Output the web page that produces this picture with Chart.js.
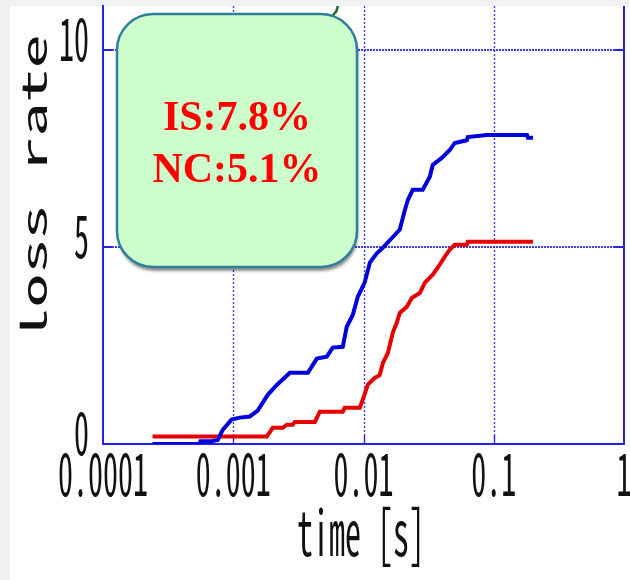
<!DOCTYPE html>
<html>
<head>
<meta charset="utf-8">
<script src="https://cdn.jsdelivr.net/npm/chart.js@4"></script>
<style>
  html, body { margin: 0; padding: 0; background: #eff1f2; }
  #wrap { width: 630px; height: 580px; }
</style>
</head>
<body>
<div id="wrap"><canvas id="lossChart" width="630" height="580"></canvas></div>
<script>
// values
const isTime = [0.00024, 0.00055, 0.00056, 0.00068, 0.00076, 0.00083, 0.00097, 0.00112, 0.00134, 0.00154, 0.00184, 0.00216,
    0.00272, 0.00374, 0.00438, 0.00522, 0.00581, 0.00693, 0.00744, 0.00827, 0.00904, 0.0102, 0.0112, 0.0126, 0.0141,
    0.0168, 0.019, 0.0208, 0.0219, 0.0239, 0.0285, 0.0323, 0.034, 0.0399, 0.046, 0.0502, 0.0621, 0.0632, 0.0885,
    0.18, 0.183, 0.2];
const isRate = [0, 0, 0.07, 0.07, 0.1, 0.36, 0.62, 0.67, 0.7, 0.85, 1.25, 1.5,
    1.81, 1.81, 2.17, 2.22, 2.45, 2.47, 2.98, 3.28, 3.74, 4.1, 4.61, 4.84, 4.99,
    5.26, 5.45, 5.95, 6.2, 6.46, 6.46, 6.79, 7.09, 7.27, 7.47, 7.65, 7.72, 7.8, 7.85,
    7.85, 7.78, 7.78];

const ncTime = [0.00024, 0.00181, 0.00201, 0.0024, 0.00258, 0.00286, 0.00297, 0.00423, 0.00462, 0.00693, 0.00718,
    0.00937, 0.00988, 0.0108, 0.0122, 0.0133, 0.0141, 0.0154, 0.0168, 0.018, 0.019, 0.0215, 0.0235, 0.0271,
    0.0296, 0.034, 0.0385, 0.0421, 0.046, 0.0502, 0.0621, 0.0632, 0.2];
const ncRate = [0.19, 0.19, 0.41, 0.41, 0.49, 0.49, 0.56, 0.56, 0.82, 0.82, 0.92,
    0.92, 1.13, 1.51, 1.68, 1.75, 2.06, 2.32, 2.83, 3.08, 3.33, 3.49, 3.71, 3.84,
    4.1, 4.3, 4.56, 4.76, 4.94, 5.06, 5.06, 5.14, 5.14];

// third curve, only its tail shows above the note box
const otherTime = [0.0055, 0.00585, 0.0062, 0.0068];
const otherRate = [10.6, 10.9, 11.0, 11.5];

const xTickValues = [0.0001, 0.001, 0.01, 0.1, 1];
const xTickLabels = ["0.0001", "0.001", "0.01", "0.1", "1"];
const yTickValues = [0, 5, 10];
const yTickLabels = ["0", "5", "10"];

const noteLines = ["IS:7.8%", "NC:5.1%"];

const MONO = '"Noto Sans Mono CJK JP", "Noto Sans CJK JP", "DejaVu Sans Mono", monospace';
const STRETCH = 1.95;
const AXIS_BLUE = "#2222e8";
const GRID_BLUE = "rgba(40,40,240,0.9)";

function pts(xs, ys) {
    return xs.map((x, i) => ({ x: x, y: ys[i] }));
}

function tallText(ctx, text, x, y, size, align, rotate) {
    ctx.save();
    ctx.translate(x, y);
    ctx.scale(1, STRETCH);
    if (rotate) ctx.rotate(-Math.PI / 2);
    ctx.font = size + "px " + MONO;
    ctx.fillStyle = "#111";
    ctx.textAlign = align;
    ctx.textBaseline = "alphabetic";
    ctx.fillText(text, 0, 0);
    ctx.restore();
}

function roundRect(ctx, x, y, w, h, r) {
    ctx.beginPath();
    ctx.moveTo(x + r, y);
    ctx.lineTo(x + w - r, y);
    ctx.arcTo(x + w, y, x + w, y + r, r);
    ctx.lineTo(x + w, y + h - r);
    ctx.arcTo(x + w, y + h, x + w - r, y + h, r);
    ctx.lineTo(x + r, y + h);
    ctx.arcTo(x, y + h, x, y + h - r, r);
    ctx.lineTo(x, y + r);
    ctx.arcTo(x, y, x + r, y, r);
    ctx.closePath();
}

const decor = {
    id: "decor",
    beforeDraw(chart) {
        const ctx = chart.ctx;
        ctx.save();
        ctx.fillStyle = "#eff1f2";
        ctx.fillRect(0, 0, chart.width, chart.height);
        ctx.fillStyle = "#ffffff";
        ctx.fillRect(10, 6, chart.width - 10, chart.height - 6);
        ctx.restore();
    },
    beforeDatasetsDraw(chart) {
        const ctx = chart.ctx;
        const a = chart.chartArea;
        const xs = chart.scales.x;
        const ys = chart.scales.y;
        ctx.save();
        // vertical dotted grid
        ctx.strokeStyle = GRID_BLUE;
        ctx.lineWidth = 1.4;
        ctx.setLineDash([2, 2]);
        xTickValues.slice(1, -1).forEach(v => {
            const px = Math.round(xs.getPixelForValue(v)) + 0.5;
            ctx.beginPath();
            ctx.moveTo(px, a.top);
            ctx.lineTo(px, a.bottom - 9);
            ctx.stroke();
        });
        // horizontal dotted grid
        ctx.lineWidth = 2;
        ctx.setLineDash([2, 1]);
        yTickValues.slice(1).forEach(v => {
            const py = Math.round(ys.getPixelForValue(v));
            ctx.beginPath();
            ctx.moveTo(a.left + 9, py);
            ctx.lineTo(a.right - 9, py);
            ctx.stroke();
        });
        // inward tick marks
        ctx.setLineDash([]);
        ctx.strokeStyle = AXIS_BLUE;
        yTickValues.slice(1).forEach(v => {
            const py = Math.round(ys.getPixelForValue(v));
            ctx.beginPath();
            ctx.moveTo(a.left, py);
            ctx.lineTo(a.left + 9, py);
            ctx.moveTo(a.right - 9, py);
            ctx.lineTo(a.right, py);
            ctx.stroke();
        });
        ctx.lineWidth = 1.4;
        xTickValues.slice(1, -1).forEach(v => {
            const px = Math.round(xs.getPixelForValue(v)) + 0.5;
            ctx.beginPath();
            ctx.moveTo(px, a.bottom);
            ctx.lineTo(px, a.bottom - 9);
            ctx.stroke();
        });
        // right frame
        ctx.lineWidth = 2;
        ctx.beginPath();
        ctx.moveTo(a.right, a.top);
        ctx.lineTo(a.right, a.bottom);
        ctx.stroke();
        ctx.restore();
    },
    afterDraw(chart) {
        const ctx = chart.ctx;
        const xs = chart.scales.x;
        const ys = chart.scales.y;

        // tick labels
        xTickValues.forEach((v, i) => {
            tallText(ctx, xTickLabels[i], xs.getPixelForValue(v), 496, 30, "center", false);
        });
        yTickValues.forEach((v, i) => {
            tallText(ctx, yTickLabels[i], 89, ys.getPixelForValue(v) + 11, 30, "right", false);
        });
        // axis titles
        tallText(ctx, "time [s]", 361, 556, 32, "center", false);
        tallText(ctx, "loss rate", 47, 188, 35, "center", true);

        // note box
        ctx.save();
        ctx.shadowColor = "rgba(0,0,0,0.45)";
        ctx.shadowBlur = 3;
        ctx.shadowOffsetX = 1;
        ctx.shadowOffsetY = 4;
        roundRect(ctx, 117, 14, 240, 253, 36);
        ctx.fillStyle = "#ccffcc";
        ctx.fill();
        ctx.shadowColor = "transparent";
        ctx.lineWidth = 2.5;
        ctx.strokeStyle = "#2f7f9b";
        ctx.stroke();
        ctx.font = "bold 42px 'Liberation Serif', 'Times New Roman', serif";
        ctx.fillStyle = "#ff0000";
        ctx.textAlign = "center";
        ctx.textBaseline = "alphabetic";
        ctx.fillText(noteLines[0], 237, 130);
        ctx.fillText(noteLines[1], 237, 182);
        ctx.restore();
    }
};

new Chart(document.getElementById("lossChart"), {
    type: "line",
    data: {
        datasets: [
            {
                label: "IS",
                data: pts(isTime, isRate),
                borderColor: "#0000dd",
                borderWidth: 4,
                pointRadius: 0,
                tension: 0
            },
            {
                label: "NC",
                data: pts(ncTime, ncRate),
                borderColor: "#e60000",
                borderWidth: 4,
                pointRadius: 0,
                tension: 0
            },
            {
                label: "other",
                data: pts(otherTime, otherRate),
                borderColor: "#1e6e2a",
                borderWidth: 2.5,
                pointRadius: 0,
                tension: 0
            }
        ]
    },
    plugins: [decor],
    options: {
        responsive: false,
        animation: false,
        layout: {
            padding: { left: 103, right: 6, top: 6, bottom: 136 }
        },
        plugins: {
            legend: { display: false },
            tooltip: { enabled: false }
        },
        scales: {
            x: {
                type: "logarithmic",
                min: 0.0001,
                max: 1,
                ticks: { display: false },
                grid: { display: false, drawTicks: false },
                border: { display: true, color: AXIS_BLUE, width: 2 }
            },
            y: {
                min: 0,
                max: 11.13,
                ticks: { display: false },
                grid: { display: false, drawTicks: false },
                border: { display: true, color: AXIS_BLUE, width: 2 }
            }
        }
    }
});
</script>
</body>
</html>
